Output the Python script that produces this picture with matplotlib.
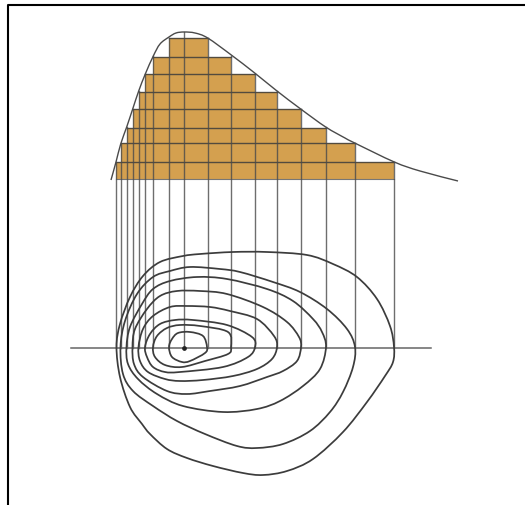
import numpy as np
import matplotlib
matplotlib.use("Agg")
import matplotlib.pyplot as plt
from matplotlib.path import Path
from matplotlib.patches import PathPatch, Rectangle

# Values in picture coordinates (the drawing has no numeric scale)
grid_x = [116, 120.7, 126.7, 132.7, 138.7, 145.3, 153.3, 169, 184.3, 207.7,
          231.3, 254.7, 277, 300.7, 325.7, 354.7, 394.3]
row_y = [162.7, 144.3, 128.7, 110, 92.7, 75, 57.7, 39.3]
row_left = [116, 120.7, 126.7, 132.7, 138.7, 145.3, 153.3, 169]
row_right = [394.3, 354.7, 325.7, 300.7, 277, 254.7, 231.3, 207.7]
line_top = [163, 145, 128, 110, 92, 75, 57, 39, 33, 39, 57, 75, 92, 110, 128, 144, 163]
base_y = 180
axis_y = 348.5
axis_x = [71, 431]

curve_x = [111, 116, 120.7, 126.7, 132.7, 138.7, 145.3, 153.3, 160, 169, 176, 184.3, 195, 207.7,
           231.3, 254.7, 277, 300.7, 325.7, 345, 354.7, 394.3, 420, 458]
curve_y = [181, 163, 145, 128, 110, 92, 75, 57, 45, 38, 34, 33, 34, 39,
           56, 74, 92, 110, 128, 139, 144, 163, 172, 182]

# Contours: points, (x, y) in picture pixels
c1_x = [116.5, 120, 130, 143, 160, 183, 200, 233, 267, 307, 333, 357, 377, 390, 394, 393, 385, 367, 343, 313, 287, 263, 243, 213, 187, 167, 150, 142, 130, 120, 116.5]
c1_y = [348, 325, 298, 277, 263, 257, 255, 253, 253, 256, 265, 278, 300, 327, 348, 363, 377, 403, 433, 460, 472, 476, 474, 467, 459, 450, 435, 425, 408, 378, 348]
c2_x = [120.5, 125, 137, 153, 170, 190, 220, 240, 273, 300, 327, 347, 355, 353, 343, 330, 310, 283, 257, 237, 205, 177, 153, 133, 123, 120.5]
c2_y = [348, 322, 295, 278, 272, 268, 270, 273, 283, 293, 310, 330, 348, 368, 393, 413, 432, 445, 449, 447, 435, 422, 407, 392, 375, 348]
c3_x = [126.5, 130, 142, 153, 170, 197, 227, 267, 293, 313, 322, 326, 320, 303, 280, 257, 223, 183, 157, 138, 128, 126.5]
c3_y = [348, 328, 305, 290, 282, 278, 280, 290, 302, 320, 333, 348, 370, 387, 402, 410, 413, 407, 395, 380, 365, 348]
c4_x = [132.5, 135, 147, 160, 177, 200, 227, 263, 287, 299, 301, 297, 283, 267, 240, 210, 187, 167, 143, 134, 132.5]
c4_y = [348, 330, 310, 297, 292, 292, 295, 308, 323, 338, 348, 362, 372, 378, 387, 392, 395, 392, 378, 365, 348]
c5_x = [138.5, 143, 153, 170, 187, 210, 230, 257, 274, 277, 272, 257, 233, 203, 180, 165, 148, 140, 138.5]
c5_y = [348, 330, 317, 308, 307, 308, 312, 320, 337, 348, 360, 370, 377, 381, 382, 380, 373, 362, 348]
c6_x = [145, 150, 160, 175, 193, 227, 252, 255, 248, 223, 180, 165, 153, 147, 145]
c6_y = [348, 335, 325, 321, 321, 326, 338, 348, 358, 368, 373, 373, 368, 358, 348]
c7_x = [153, 157, 167, 180, 200, 228, 231, 228, 205, 182, 165, 155, 153]
c7_y = [348, 337, 329, 326, 327, 333, 348, 355, 362, 368, 366, 358, 348]
c8_x = [169, 172, 178, 190, 203, 207, 205, 190, 182, 172, 169]
c8_y = [348, 340, 334, 333, 337, 348, 354, 362, 363, 358, 348]
center_x, center_y = 184.3, 348.5

contours = [(c1_x, c1_y), (c2_x, c2_y), (c3_x, c3_y), (c4_x, c4_y),
            (c5_x, c5_y), (c6_x, c6_y), (c7_x, c7_y), (c8_x, c8_y)]


def smooth_path(xs, ys, closed=False):
    """Bezier path through the read points (Catmull-Rom tangents)."""
    p = np.column_stack([xs, ys]).astype(float)
    n = len(p)
    verts = [p[0]]
    codes = [Path.MOVETO]
    for i in range(n - 1):
        if closed:
            p0 = p[i - 1] if i > 0 else p[-2]
            p3 = p[i + 2] if i + 2 < n else p[1]
        else:
            p0 = p[max(i - 1, 0)]
            p3 = p[min(i + 2, n - 1)]
        verts += [p[i] + (p[i + 1] - p0) / 6, p[i + 1] - (p3 - p[i]) / 6, p[i + 1]]
        codes += [Path.CURVE4] * 3
    return Path(verts, codes)


INK = "#3c3c3c"
fig = plt.figure(figsize=(5.25, 5.06), dpi=100)
ax = fig.add_axes([0, 0, 1, 1])
ax.set_xlim(0, 525)
ax.set_ylim(506, 0)
ax.axis("off")

# Frame
ax.plot([7.5, 7.5, 525], [506, 5.5, 5.5], color="black", lw=1.5, solid_capstyle="butt", zorder=5)

# Bars
for i, y in enumerate(row_y):
    bottom = base_y if i == 0 else row_y[i - 1]
    ax.add_patch(Rectangle((row_left[i], y), row_right[i] - row_left[i], bottom - y,
                           facecolor="#d4a04f", edgecolor="none", zorder=1))
for i, y in enumerate(row_y):
    ax.plot([row_left[i], row_right[i]], [y, y], color=INK, lw=1.0, alpha=0.85, zorder=2)
ax.plot([grid_x[0], grid_x[-1]], [base_y, base_y], color="#777777", lw=0.8, zorder=2)

# Verticals
for x, t in zip(grid_x, line_top):
    ax.plot([x, x], [t, axis_y], color="#4a4a4a", lw=1.0, alpha=0.8, zorder=2)

# Axis line
ax.plot(axis_x, [axis_y, axis_y], color="#666666", lw=1.1, zorder=2)

# Density curve
ax.add_patch(PathPatch(smooth_path(curve_x, curve_y), fill=False, edgecolor="#4a4a4a", lw=1.0, zorder=3))

# Contours
for xs, ys in contours:
    ax.add_patch(PathPatch(smooth_path(xs, ys, closed=True), fill=False, edgecolor=INK, lw=1.25, zorder=3))
ax.plot([center_x], [center_y], "o", color="#222222", ms=2.4, zorder=4)

fig.savefig("out.png", dpi=100)
